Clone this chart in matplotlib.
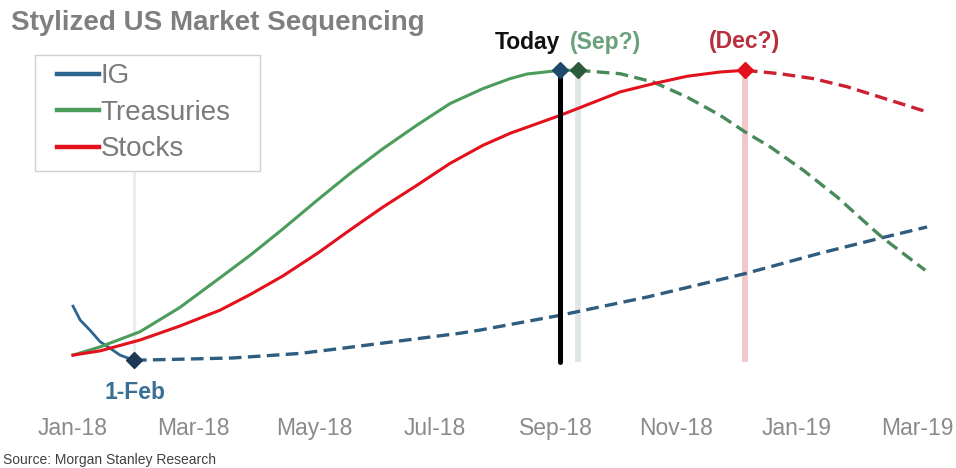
import numpy as np
import matplotlib.pyplot as plt
import matplotlib.lines as mlines
from matplotlib.legend_handler import HandlerLine2D

plt.rcParams['font.family'] = ['Liberation Sans', 'DejaVu Sans']

# x values are months since Jan-18, y values are a stylized level (peak = 100)
tick_months = [0, 2, 4, 6, 8, 10, 12, 14]
tick_labels = ['Jan-18', 'Mar-18', 'May-18', 'Jul-18', 'Sep-18', 'Nov-18', 'Jan-19', 'Mar-19']

ig_solid_x = [0.0, 0.12, 0.28, 0.45, 0.61, 0.78, 1.01]
ig_solid_y = [17.2, 12.3, 8.8, 4.7, 2.5, 0.0, -1.8]
ig_dash_x = [1.01, 2.65, 3.76, 4.31, 6.42, 6.75, 8.08, 9.52, 11.14, 12.39, 13.43, 14.16]
ig_dash_y = [-1.8, -1.0, 0.6, 2.0, 7.7, 8.8, 14.0, 20.4, 28.6, 35.8, 41.3, 45.0]

tsy_solid_x = [0.0, 0.45, 1.11, 1.77, 2.44, 2.94, 3.48, 4.05, 4.59, 5.14, 5.70, 6.25, 6.80, 7.25, 7.53, 8.08, 8.37]
tsy_solid_y = [0.0, 2.9, 8.2, 16.7, 27.2, 35.1, 44.3, 54.4, 63.7, 72.5, 80.7, 88.3, 93.6, 97.1, 98.7, 100.0, 100.0]
tsy_dash_x = [8.37, 9.07, 9.62, 10.18, 10.73, 11.14, 11.56, 12.11, 12.67, 13.22, 13.43, 14.13]
tsy_dash_y = [100.0, 98.8, 95.9, 90.6, 84.2, 78.4, 73.1, 64.9, 55.5, 45.0, 41.1, 29.8]

stk_solid_x = [0.0, 0.45, 1.11, 1.77, 2.44, 2.94, 3.48, 4.05, 4.59, 5.14, 5.70, 6.25, 6.80, 7.25, 8.08, 9.07, 9.62, 10.18, 10.73, 11.14]
stk_solid_y = [0.0, 1.5, 5.3, 10.2, 15.8, 21.3, 27.8, 35.7, 43.9, 52.0, 59.6, 67.3, 73.7, 77.9, 84.2, 92.4, 95.3, 97.9, 99.4, 100.0]
stk_dash_x = [11.14, 11.72, 12.27, 12.84, 13.38, 14.16]
stk_dash_y = [100.0, 98.8, 97.1, 94.2, 90.6, 85.4]

feb_x, today_x, sep_x, dec_x = 1.01, 8.08, 8.37, 11.14
peak_y, feb_y, line_bottom = 100.0, -1.8, -2.5

blue = '#2c6690'
blue_dash = '#2e5d80'
green = '#4c9c5c'
green_dash = '#4a8a5a'
red = '#e3111b'
red_dash = '#cc1f2f'

fig = plt.figure(figsize=(9.56, 4.68), dpi=100)
ax = fig.add_axes([0.0, 0.145, 1.0, 0.79])
ax.set_xlim(-1.21, 14.64)
ax.set_ylim(-15.8, 114.0)

# event lines
ax.plot([feb_x, feb_x], [line_bottom, peak_y], color='#e6eeee', lw=2.2, zorder=1)
ax.plot([sep_x, sep_x], [line_bottom, peak_y], color='#dfe6e3', lw=4.2, zorder=1, solid_capstyle='butt')
ax.plot([dec_x, dec_x], [line_bottom, peak_y], color='#f3c6c8', lw=4.2, zorder=1, solid_capstyle='butt')
ax.plot([today_x, today_x], [line_bottom, peak_y], color='black', lw=3.6, zorder=4, solid_capstyle='round')

# curves
ax.plot(ig_solid_x, ig_solid_y, color=blue, lw=2.0, zorder=3)
ax.plot(ig_dash_x, ig_dash_y, color=blue_dash, lw=2.4, dashes=(3.8, 1.9), zorder=3)
ax.plot(tsy_solid_x, tsy_solid_y, color=green, lw=2.2, zorder=3)
ax.plot(tsy_dash_x, tsy_dash_y, color=green_dash, lw=2.4, dashes=(3.8, 1.9), zorder=3)
ax.plot(stk_solid_x, stk_solid_y, color=red, lw=2.2, zorder=3)
ax.plot(stk_dash_x, stk_dash_y, color=red_dash, lw=2.4, dashes=(3.8, 1.9), zorder=3)

# markers
ax.plot(feb_x, feb_y, marker='D', ms=8, color='#1c3a55', zorder=5)
ax.plot(today_x, peak_y, marker='D', ms=8, color='#1d4a6b', zorder=5)
ax.plot(sep_x, peak_y, marker='D', ms=8, color='#2d5c3c', zorder=5)
ax.plot(dec_x, peak_y, marker='D', ms=8, color='#e0101c', zorder=5)

# labels
ax.annotate('1-Feb', (feb_x, feb_y), xytext=(1, -23), textcoords='offset points',
            ha='center', va='center', fontsize=16.5, fontweight='bold', color='#3a6f95')
ax.annotate('Today', (today_x, peak_y), xytext=(0, 20), textcoords='offset points',
            ha='right', va='center', fontsize=16.5, fontweight='bold', color='#111111')
ax.annotate('(Sep?)', (sep_x, peak_y), xytext=(-6, 20), textcoords='offset points',
            ha='left', va='center', fontsize=16.5, fontweight='bold', color='#6aa07a')
ax.annotate('(Dec?)', (dec_x, peak_y), xytext=(0, 21), textcoords='offset points',
            ha='center', va='center', fontsize=16.5, fontweight='bold', color='#b8303e')

ax.set_xticks(tick_months)
ax.set_xticklabels(tick_labels, fontsize=16.5, color='#8a8a8a')
ax.tick_params(axis='x', length=0, pad=12)
ax.set_yticks([])
for s in ax.spines.values():
    s.set_visible(False)

fig.text(0.012, 0.951, 'Stylized US Market Sequencing', fontsize=20, fontweight='bold',
         color='#7f7f7f', ha='left', va='center')
fig.text(0.003, 0.017, 'Source: Morgan Stanley Research', fontsize=10, color='#404040',
         ha='left', va='center')

ig_line = mlines.Line2D([], [], color=blue, lw=3.2, label='IG')
tsy_line = mlines.Line2D([], [], color=green, lw=3.2, label='Treasuries')
stk_line = mlines.Line2D([], [], color=red, lw=3.2, label='Stocks')
leg = fig.legend(handles=[ig_line, tsy_line, stk_line], loc='upper left',
                 bbox_to_anchor=(35 / 956, 1 - 172 / 468, 225 / 956, 117 / 468),
                 mode='expand', borderaxespad=0, fontsize=20,
                 handlelength=2.0, handletextpad=0.05, labelspacing=0.38,
                 borderpad=0.3, fancybox=False, framealpha=1, edgecolor='#d0d0d0',
                 handler_map={mlines.Line2D: HandlerLine2D(xpad=0.5)})
leg.get_frame().set_linewidth(1.0)
for t in leg.get_texts():
    t.set_color('#7a7a7a')

fig.savefig('out.png', dpi=100)
